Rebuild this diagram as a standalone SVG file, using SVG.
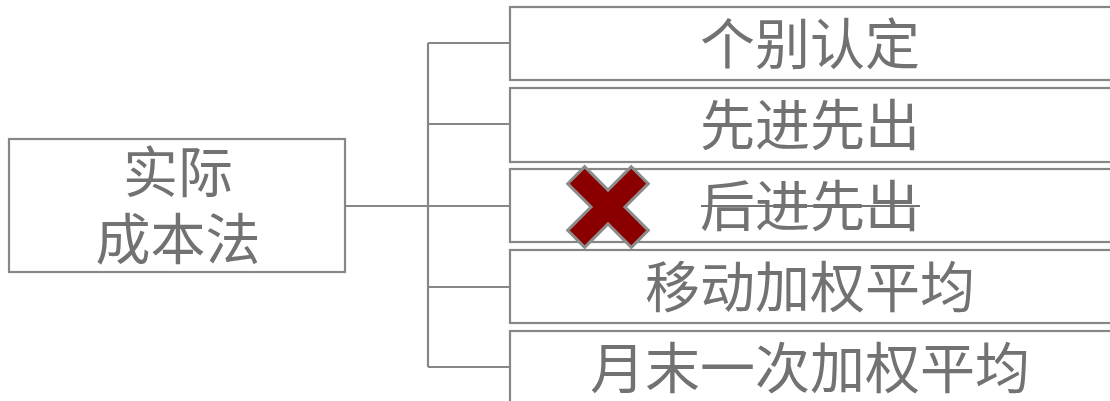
<svg xmlns="http://www.w3.org/2000/svg" width="1110" height="401" viewBox="0 0 1110 401">
<style>
.box{fill:#ffffff;stroke:#878787;stroke-width:2.2}
.lbl{font-family:"Noto Sans CJK SC","Noto Sans",sans-serif;font-size:55px;fill:#727272;text-anchor:middle}
.con{fill:none;stroke:#878787;stroke-width:2.2}
</style>
<rect width="1110" height="401" fill="#ffffff"/>
<g id="connectors">
<path class="con" d="M345 206H428M428 43V367M428 43H510M428 124H510M428 206H510M428 287H510M428 367H510"/>
</g>
<g id="root">
<rect class="box" x="9" y="139" width="336" height="133"/>
<text class="lbl" x="178" y="192">实际</text>
<text class="lbl" x="178" y="259">成本法</text>
</g>
<g id="n1">
<rect class="box" x="510" y="7" width="620" height="73"/>
<text class="lbl" x="810" y="64">个别认定</text>
</g>
<g id="n2">
<rect class="box" x="510" y="88" width="620" height="74"/>
<text class="lbl" x="810" y="145">先进先出</text>
</g>
<g id="n3">
<rect class="box" x="510" y="169" width="620" height="73"/>
<text class="lbl" x="810" y="226">后进先出</text>
<line x1="701" y1="206" x2="920" y2="206" stroke="#747474" stroke-width="2.2"/>
<path d="M-12 -45H12V-12H45V12H12V45H-12V12H-45V-12H-12Z" transform="translate(608 207) rotate(45)" fill="#8a0000" stroke="#8c8c8c" stroke-width="3" stroke-linejoin="miter"/>
</g>
<g id="n4">
<rect class="box" x="510" y="250" width="620" height="73"/>
<text class="lbl" x="810" y="307">移动加权平均</text>
</g>
<g id="n5">
<rect class="box" x="510" y="331" width="620" height="100"/>
<text class="lbl" x="810" y="388">月末一次加权平均</text>
</g>
</svg>
